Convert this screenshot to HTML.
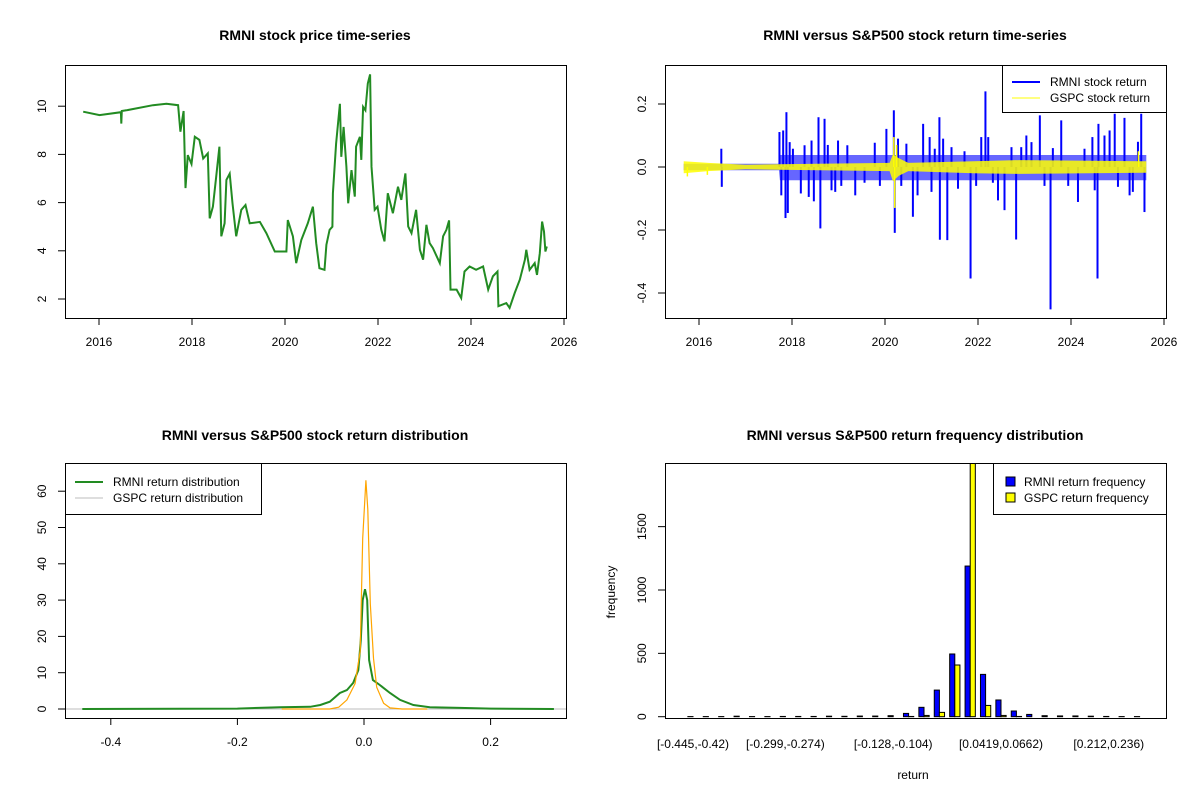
<!DOCTYPE html>
<html><head><meta charset="utf-8"><style>
html,body{margin:0;padding:0;background:#fff;}
svg{display:block;font-family:"Liberation Sans",Arial,sans-serif;}
</style></head><body>
<svg id="s" width="1200" height="800" viewBox="0 0 1200 800" xmlns="http://www.w3.org/2000/svg">
<rect width="1200" height="800" fill="#fff"/>
<g font-size="14" font-weight="bold" text-anchor="middle">
<text x="315" y="40">RMNI stock price time-series</text>
<text x="915" y="40">RMNI versus S&amp;P500 stock return time-series</text>
<text x="315" y="440">RMNI versus S&amp;P500 stock return distribution</text>
<text x="915" y="440">RMNI versus S&amp;P500 return frequency distribution</text>
</g>
<g id="g1"></g>
<g id="g2"></g>
<g id="g3"></g>
<g id="g4"></g>
</svg>
<script>
// ---- Panel 1: price ----
const priceYears=[2015.66,2016.01,2016.47,2016.48,2016.49,2016.59,2017.16,2017.45,2017.70,2017.75,2017.82,2017.86,2017.91,2017.99,2018.06,2018.16,2018.24,2018.34,2018.38,2018.45,2018.52,2018.59,2018.63,2018.70,2018.74,2018.81,2018.87,2018.95,2019.06,2019.15,2019.24,2019.46,2019.60,2019.78,2020.03,2020.06,2020.17,2020.24,2020.35,2020.49,2020.60,2020.67,2020.74,2020.85,2020.89,2020.96,2021.02,2021.03,2021.10,2021.18,2021.21,2021.26,2021.32,2021.36,2021.43,2021.50,2021.53,2021.61,2021.64,2021.68,2021.73,2021.78,2021.83,2021.86,2021.93,2021.99,2022.07,2022.14,2022.21,2022.32,2022.43,2022.50,2022.59,2022.65,2022.72,2022.82,2022.90,2022.97,2023.04,2023.11,2023.18,2023.33,2023.40,2023.47,2023.53,2023.56,2023.69,2023.79,2023.86,2023.97,2024.11,2024.26,2024.37,2024.47,2024.57,2024.59,2024.76,2024.83,2024.94,2025.05,2025.16,2025.19,2025.26,2025.37,2025.42,2025.48,2025.53,2025.57,2025.60,2025.63];
const priceValues=[9.77,9.63,9.75,9.28,9.8,9.83,10.04,10.1,10.04,8.94,9.8,6.6,7.97,7.6,8.73,8.6,7.83,8.04,5.35,5.83,7.08,8.32,4.6,5.14,6.94,7.2,5.97,4.6,5.7,5.9,5.14,5.2,4.73,3.97,3.97,5.28,4.6,3.49,4.45,5.14,5.83,4.32,3.28,3.21,4.25,4.87,5.0,6.39,8.45,10.1,7.9,9.14,7.49,5.97,7.35,6.25,8.32,8.73,7.77,9.97,9.83,10.94,11.32,7.49,5.7,5.83,4.87,4.39,6.39,5.56,6.66,6.11,7.21,5.01,4.73,5.7,4.04,3.63,5.08,4.32,4.11,3.49,4.6,4.87,5.26,2.39,2.39,2.04,3.14,3.35,3.21,3.35,2.39,2.94,3.14,1.7,1.83,1.63,2.25,2.8,3.63,4.04,3.21,3.49,3.0,3.9,5.21,4.8,3.97,4.18];
const yearTicks=[2016,2018,2020,2022,2024,2026];
const priceTicks=[2,4,6,8,10];
// ---- Panel 2: returns ----
const rmniSpikeYears=[2016.48,2016.49,2017.73,2017.77,2017.81,2017.86,2017.88,2017.91,2017.95,2018.02,2018.19,2018.27,2018.36,2018.42,2018.47,2018.57,2018.61,2018.70,2018.77,2018.85,2018.93,2018.99,2019.06,2019.19,2019.36,2019.56,2019.78,2019.89,2020.03,2020.19,2020.21,2020.28,2020.35,2020.46,2020.60,2020.70,2020.82,2020.96,2021.00,2021.07,2021.17,2021.18,2021.25,2021.34,2021.43,2021.57,2021.71,2021.84,2021.96,2022.07,2022.16,2022.22,2022.32,2022.43,2022.57,2022.72,2022.82,2022.93,2023.04,2023.15,2023.33,2023.43,2023.56,2023.61,2023.79,2023.94,2024.15,2024.29,2024.46,2024.51,2024.57,2024.59,2024.72,2024.83,2024.94,2025.01,2025.15,2025.26,2025.33,2025.44,2025.51,2025.58];
const rmniSpikeValues=[0.058,-0.063,0.111,-0.090,0.116,-0.162,0.174,-0.146,0.079,0.058,-0.084,0.069,-0.095,0.084,-0.109,0.158,-0.195,0.153,0.07,-0.074,-0.079,0.084,-0.06,0.069,-0.090,-0.05,0.077,-0.06,0.121,0.180,-0.209,0.090,-0.06,0.074,-0.158,-0.090,0.137,0.095,-0.079,0.058,0.158,-0.231,0.09,-0.232,0.063,-0.069,0.05,-0.354,-0.06,0.095,0.240,0.095,-0.05,-0.106,-0.137,0.063,-0.230,0.063,0.1,0.079,0.164,-0.06,-0.452,0.06,0.148,-0.06,-0.111,0.058,0.095,-0.074,-0.354,0.137,0.1,0.116,0.169,-0.063,0.156,-0.09,-0.079,0.08,0.169,-0.143];
const rmniBandYears=[2015.67,2017.72,2017.74,2025.62];
const rmniBandUp=[0.01,0.01,0.038,0.038];
const rmniBandDown=[-0.01,-0.01,-0.042,-0.042];
const gspcBandYears=[2015.67,2016.2,2017.0,2017.7,2020.1,2020.17,2020.3,2020.5,2021.9,2022.9,2025.62];
const gspcBandUp=[0.018,0.013,0.007,0.009,0.013,0.04,0.028,0.013,0.018,0.022,0.018];
const gspcBandDown=[-0.02,-0.013,-0.007,-0.009,-0.013,-0.045,-0.028,-0.013,-0.02,-0.022,-0.018];
const gspcSpikeYears=[2015.75,2016.18,2020.19,2020.21,2020.25,2025.45];
const gspcSpikeValues=[-0.03,-0.025,0.095,-0.13,0.07,0.05];
const retTicks=[-0.4,-0.2,0.0,0.2];
// ---- Panel 3: density ----
const rmniDensX=[-0.445,-0.2,-0.133,-0.085,-0.069,-0.054,-0.038,-0.027,-0.017,-0.009,-0.005,-0.002,0.0016,0.005,0.008,0.014,0.025,0.041,0.057,0.078,0.104,0.152,0.2,0.3];
const rmniDensY=[0,0.1,0.5,0.6,1.1,2.0,4.4,5.2,7.2,10.7,19,30,33,30,13.5,8,6.6,4.4,2.5,1.1,0.5,0.3,0.1,0];
const gspcDensX=[-0.13,-0.054,-0.04,-0.027,-0.014,-0.006,-0.002,0.003,0.006,0.010,0.015,0.020,0.031,0.041,0.06,0.1];
const gspcDensY=[0,0,0.5,2.5,7,16,47,63,55,29,14,6,1.6,0.3,0,0];
const densXTicks=[-0.4,-0.2,0.0,0.2];
const densYTicks=[0,10,20,30,40,50,60];
// ---- Panel 4: histogram ----
const rmniFreq=[1,1,1,4,1,1,2,2,2,4,3,5,5,8,26,74,210,495,1189,334,132,45,18,8,6,6,4,2,1,1];
const gspcFreq=[0,0,0,0,0,0,0,0,0,0,0,0,0,0,2,10,34,408,2150,89,10,2,0,0,0,0,0,0,0,0];
const binLabelIdx=[0,6,13,20,27];
const binLabels=["[-0.445,-0.42)","[-0.299,-0.274)","[-0.128,-0.104)","[0.0419,0.0662)","[0.212,0.236)"];
const freqTicks=[0,500,1000,1500];

const NS="http://www.w3.org/2000/svg";
function mk(p,t,a){const e=document.createElementNS(NS,t);for(const k in a)e.setAttribute(k,a[k]);p.appendChild(e);return e;}
function txt(p,x,y,s,anchor,rot){const e=mk(p,'text',{x:x,y:y,'font-size':12,'text-anchor':anchor||'middle'});if(rot)e.setAttribute('transform','rotate(-90 '+x+' '+y+')');e.textContent=s;return e;}

// Panel 1
(function(){
const g=document.getElementById('g1');
const X=y=>99+(y-2016)*46.5, Y=p=>299-(p-2)*24.1;
let d=priceYears.map((yr,i)=>(i?'L':'M')+X(yr).toFixed(1)+' '+Y(priceValues[i]).toFixed(1)).join(' ');
const l=mk(g,'path',{d:d,fill:'none',stroke:'#228B22','stroke-width':2,'stroke-linejoin':'miter'});


const b=mk(g,'rect',{x:65.5,y:65.5,width:501,height:253,fill:'none',stroke:'#000'});


yearTicks.forEach(t=>{const x=X(t);mk(g,'line',{x1:x,x2:x,y1:318,y2:325,stroke:'#000'});const e=txt(g,x,346,String(t));

});
priceTicks.forEach(t=>{const y=Y(t);mk(g,'line',{x1:58,x2:65,y1:y,y2:y,stroke:'#000'});const e=txt(g,46,y,String(t),'middle',true);

});
})();

// Panel 2
(function(){
const g=document.getElementById('g2');
const X=y=>699+(y-2016)*46.5, Y=r=>167-r*315;
function band(ys,up,dn,col,op,name){let d='M'+ys.map((y,i)=>X(y).toFixed(1)+' '+Y(up[i]).toFixed(1)).join(' L');
for(let i=ys.length-1;i>=0;i--)d+=' L'+X(ys[i]).toFixed(1)+' '+Y(dn[i]).toFixed(1);d+='Z';
const e=mk(g,'path',{d:d,fill:col,'fill-opacity':op,stroke:'none'});

}
band(rmniBandYears,rmniBandUp,rmniBandDown,'#0000ff',0.6,'rmni-return-band');
rmniSpikeYears.forEach((yr,i)=>{const e=mk(g,'line',{x1:X(yr),x2:X(yr),y1:Y(0),y2:Y(rmniSpikeValues[i]),stroke:'#0000ff','stroke-width':2});

});
band(gspcBandYears,gspcBandUp,gspcBandDown,'#ffff00',0.85,'gspc-return-band');
gspcSpikeYears.forEach((yr,i)=>{const e=mk(g,'line',{x1:X(yr),x2:X(yr),y1:Y(0),y2:Y(gspcSpikeValues[i]),stroke:'#ffff00','stroke-width':1.5});

});
const b=mk(g,'rect',{x:665.5,y:65.5,width:501,height:253,fill:'none',stroke:'#000'});


yearTicks.forEach(t=>{const x=X(t);mk(g,'line',{x1:x,x2:x,y1:318,y2:325,stroke:'#000'});const e=txt(g,x,346,String(t));

});
retTicks.forEach(t=>{const y=Y(t);mk(g,'line',{x1:658,x2:665,y1:y,y2:y,stroke:'#000'});const e=txt(g,646,y,t.toFixed(1),'middle',true);

});
const lg=mk(g,'g',{});


mk(lg,'rect',{x:1002.5,y:65.5,width:164,height:47,fill:'#fff',stroke:'#000'});
mk(lg,'line',{x1:1012,x2:1040,y1:82,y2:82,stroke:'#0000ff','stroke-width':2});
mk(lg,'line',{x1:1012,x2:1040,y1:98,y2:98,stroke:'#ffff00','stroke-width':1});
txt(lg,1050,86,'RMNI stock return','start');
txt(lg,1050,102,'GSPC stock return','start');
})();

// Panel 3
(function(){
const g=document.getElementById('g3');
const X=v=>364+v*633, Y=d=>709-d*3.63;
mk(g,'line',{x1:65,x2:566,y1:Y(0),y2:Y(0),stroke:'#bebebe'});
function ln(xs,ys,col,w,name){const e=mk(g,'path',{d:xs.map((x,i)=>(i?'L':'M')+X(x).toFixed(1)+' '+Y(ys[i]).toFixed(1)).join(' '),fill:'none',stroke:col,'stroke-width':w});

}
ln(rmniDensX,rmniDensY,'#228B22',2,'rmni-density-line');
ln(gspcDensX,gspcDensY,'#FFA500',1.2,'gspc-density-line');
const b=mk(g,'rect',{x:65.5,y:463.5,width:501,height:255,fill:'none',stroke:'#000'});


densXTicks.forEach(t=>{const x=X(t);mk(g,'line',{x1:x,x2:x,y1:718,y2:725,stroke:'#000'});const e=txt(g,x,746,t.toFixed(1));

});
densYTicks.forEach(t=>{const y=Y(t);mk(g,'line',{x1:58,x2:65,y1:y,y2:y,stroke:'#000'});const e=txt(g,46,y,String(t),'middle',true);

});
const lg=mk(g,'g',{});


mk(lg,'rect',{x:65.5,y:463.5,width:196,height:51,fill:'#fff',stroke:'#000'});
mk(lg,'line',{x1:75,x2:103,y1:482,y2:482,stroke:'#228B22','stroke-width':2});
mk(lg,'line',{x1:75,x2:103,y1:498,y2:498,stroke:'#bebebe','stroke-width':1});
txt(lg,113,486,'RMNI return distribution','start');
txt(lg,113,502,'GSPC return distribution','start');
})();

// Panel 4
(function(){
const g=document.getElementById('g4');
const pitch=15.4,w=pitch/3,C=k=>693+k*pitch, Y=f=>716.7-f*0.1267;
mk(g,'clipPath',{id:'cp4'}).appendChild(document.createElementNS(NS,'rect'));
const cr=document.querySelector('#cp4 rect');cr.setAttribute('x',665);cr.setAttribute('y',463);cr.setAttribute('width',502);cr.setAttribute('height',256);
const bars=mk(g,'g',{'clip-path':'url(#cp4)'});
rmniFreq.forEach((f,k)=>{const y=Y(f);const e=mk(bars,'rect',{x:C(k)-w,y:y,width:w,height:Y(0)-y,fill:'#0000ff',stroke:'#000','stroke-width':1});

});
gspcFreq.forEach((f,k)=>{const y=Y(f);const e=mk(bars,'rect',{x:C(k),y:y,width:w,height:Y(0)-y,fill:'#ffff00',stroke:'#000','stroke-width':1});

});
const b=mk(g,'rect',{x:665.5,y:463.5,width:501,height:255,fill:'none',stroke:'#000'});


binLabelIdx.forEach((k,i)=>{const e=txt(g,C(k),748,binLabels[i]);

});
freqTicks.forEach(t=>{const y=Y(t);mk(g,'line',{x1:658,x2:665,y1:y,y2:y,stroke:'#000'});const e=txt(g,646,y,String(t),'middle',true);

});
const xl=txt(g,913,779,'return');


const yl=txt(g,615,592,'frequency','middle',true);


const lg=mk(g,'g',{});


mk(lg,'rect',{x:993.5,y:463.5,width:173,height:51,fill:'#fff',stroke:'#000'});
mk(lg,'rect',{x:1006,y:477,width:9,height:9,fill:'#0000ff',stroke:'#000'});
mk(lg,'rect',{x:1006,y:493,width:9,height:9,fill:'#ffff00',stroke:'#000'});
txt(lg,1024,486,'RMNI return frequency','start');
txt(lg,1024,502,'GSPC return frequency','start');
})();
</script>
</body></html>
